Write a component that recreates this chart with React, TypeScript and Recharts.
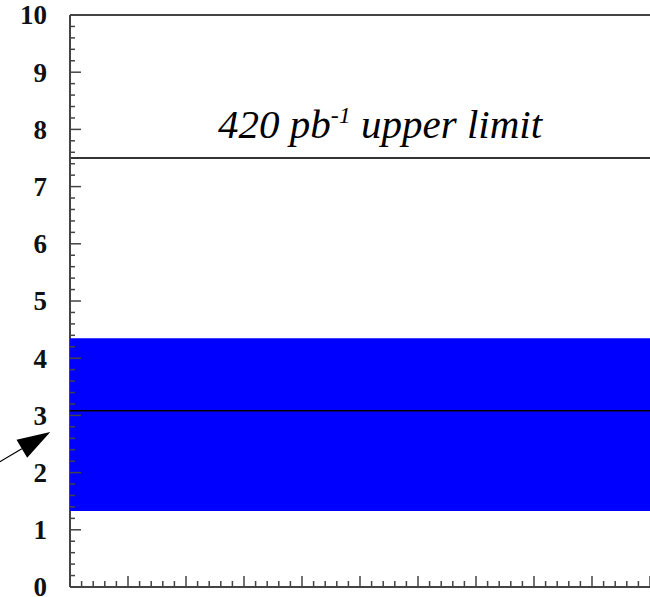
import React from 'react';
import { ComposedChart, Area, Line, XAxis, YAxis, ReferenceLine } from 'recharts';

// x range of the histogram frame (no labels on this axis)
const xRange = [0, 10];
const xMajorTicks = [0, 1, 2, 3, 4, 5, 6, 7, 8, 9, 10];
const yMajorTicks = [0, 1, 2, 3, 4, 5, 6, 7, 8, 9, 10];
const minorPerMajor = 5;

// measured values
const upperLimit = 7.5;
const bandLow = 1.33;
const bandHigh = 4.35;
const central = 3.08;

// arrow annotation, in data units
const arrowFrom = { x: -1.21, y: 2.19 };
const arrowTo = { x: -0.34, y: 2.71 };

const data = xRange.map((x) => ({ x, band: [bandLow, bandHigh], central }));

const withMinor = (majors: number[]) => {
  const out: number[] = [];
  for (let i = 0; i < majors.length - 1; i++) {
    const step = (majors[i + 1] - majors[i]) / minorPerMajor;
    for (let k = 0; k < minorPerMajor; k++) out.push(majors[i] + k * step);
  }
  out.push(majors[majors.length - 1]);
  return out;
};

const isMajor = (v: number) => Math.abs(v - Math.round(v)) < 1e-6;

const AXIS = '#444';

const XTick = (props: any) => {
  const { x, payload } = props;
  const len = isMajor(payload.value) ? 11 : 6;
  // axis line sits at the bottom of the plot (y = 587)
  const y0 = 587;
  return <line x1={x} x2={x} y1={y0} y2={y0 - len} stroke={AXIS} strokeWidth={1.5} />;
};

const YTick = (props: any) => {
  const { x, y, payload } = props;
  const major = isMajor(payload.value);
  const len = major ? 11 : 5;
  return (
    <g>
      <line x1={x} x2={x + len} y1={y} y2={y} stroke={AXIS} strokeWidth={1.5} />
      {major && (
        <text
          x={x - 23}
          y={y}
          dy="0.35em"
          textAnchor="end"
          style={{ fontFamily: "'Liberation Serif', serif", fontWeight: 'bold', fontSize: 27 }}
          fill="#111"
        >
          {Math.round(payload.value)}
        </text>
      )}
    </g>
  );
};

const ArrowShape = (props: any) => {
  const { x1, y1, x2, y2 } = props;
  const dx = x2 - x1;
  const dy = y2 - y1;
  const l = Math.sqrt(dx * dx + dy * dy) || 1;
  const ux = dx / l;
  const uy = dy / l;
  const head = 33;
  const half = 10.5;
  const bx = x2 - ux * head;
  const by = y2 - uy * head;
  const pts = `${x2},${y2} ${bx - uy * half},${by + ux * half} ${bx + uy * half},${by - ux * half}`;
  return (
    <g>
      <line x1={x1} y1={y1} x2={bx} y2={by} stroke="#000" strokeWidth={1.2} />
      <polygon points={pts} fill="#000" />
    </g>
  );
};

const LimitLabel = (props: any) => {
  const { viewBox } = props;
  return (
    <text
      x={viewBox.x + 148}
      y={viewBox.y - 20}
      style={{ fontFamily: "'Liberation Serif', serif", fontStyle: 'italic', fontSize: 41 }}
      fill="#000"
    >
      420 pb
      <tspan dy={-15} style={{ fontSize: 24 }}>-1</tspan>
      <tspan dy={15}> upper limit</tspan>
    </text>
  );
};

export default function App() {
  return (
    <div style={{ position: 'absolute', left: 0, top: 0, background: '#fff' }}>
      <ComposedChart
        width={650}
        height={597}
        data={data}
        margin={{ top: 15, right: 0, left: 0, bottom: 0 }}
      >
        <XAxis
          dataKey="x"
          type="number"
          domain={[xRange[0], xRange[1]]}
          ticks={withMinor(xMajorTicks)}
          interval={0}
          height={10}
          tickSize={0}
          tickMargin={0}
          tickLine={false}
          tick={<XTick />}
          axisLine={{ stroke: AXIS, strokeWidth: 2 }}
          allowDataOverflow
        />
        <YAxis
          type="number"
          domain={[0, 10]}
          ticks={withMinor(yMajorTicks)}
          interval={0}
          width={70}
          tickSize={0}
          tickMargin={0}
          tickLine={false}
          tick={<YTick />}
          axisLine={{ stroke: AXIS, strokeWidth: 2 }}
          allowDataOverflow
        />
        <Area
          dataKey="band"
          type="linear"
          stroke="none"
          fill="#0000ff"
          fillOpacity={1}
          isAnimationActive={false}
          activeDot={false}
          zIndex={550}
        />
        <Line
          dataKey="central"
          type="linear"
          stroke="#000"
          strokeWidth={1.5}
          dot={false}
          activeDot={false}
          isAnimationActive={false}
          zIndex={560}
        />
        <ReferenceLine y={10} stroke={AXIS} strokeWidth={2} />
        <ReferenceLine
          y={upperLimit}
          stroke="#333"
          strokeWidth={2}
          label={<LimitLabel />}
        />
        <ReferenceLine
          segment={[arrowFrom, arrowTo]}
          ifOverflow="visible"
          shape={<ArrowShape />}
        />
      </ComposedChart>
    </div>
  );
}
